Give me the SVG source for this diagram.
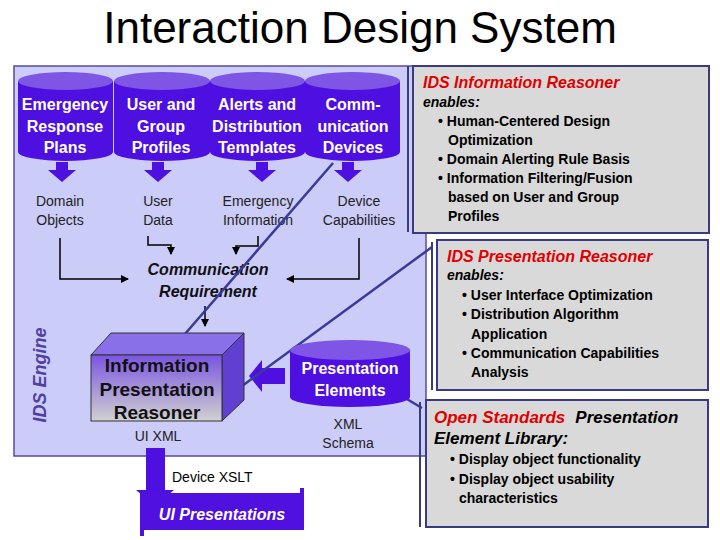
<svg xmlns="http://www.w3.org/2000/svg" width="720" height="540" viewBox="0 0 720 540">
<style>
text{font-family:"Liberation Sans",Arial,sans-serif}
.cw{fill:#fff;font-weight:bold;font-size:16px;text-anchor:middle}
.lb{fill:#222;font-size:14px;text-anchor:middle}
.bx{fill:#d9d9d9;stroke:#3a3a80;stroke-width:2}
.t{fill:#e00000;font-weight:bold;font-style:italic;font-size:16px}
.en{fill:#000;font-weight:bold;font-style:italic;font-size:14px}
.bl{fill:#000;font-weight:bold;font-size:14px}
.cn{fill:none;stroke:#000;stroke-width:1.5}
.cl{stroke:#3a3a9a;stroke-width:2.5}
</style>
<defs>
<marker id="ah" markerWidth="8" markerHeight="8" refX="7" refY="4" orient="auto" markerUnits="userSpaceOnUse"><path d="M0,0L8,4L0,8z" fill="#000"/></marker>
<linearGradient id="bg" x1="0" y1="0" x2="0" y2="1"><stop offset="0" stop-color="#7a55e0"/><stop offset="1" stop-color="#d0d0d0"/></linearGradient>
</defs>
<rect width="720" height="540" fill="#fff"/>
<text x="360" y="43" font-size="44" text-anchor="middle" fill="#000">Interaction Design System</text>
<g id="engine">
<rect x="14" y="66" width="412" height="390" fill="#ccccf8" stroke="#5a4aa0" stroke-width="1.5"/>
<text transform="translate(46,375) rotate(-90)" text-anchor="middle" font-size="18" font-weight="bold" font-style="italic" fill="#5040a0">IDS Engine</text>
</g>
<g id="cylinders">
<g id="c1"><path d="M18,81 V152 A47.5,9 0 0 0 113,152 V81z" fill="#4e10e0"/><ellipse cx="65.5" cy="81" rx="47.5" ry="9" fill="#7f55e6"/>
<text class="cw" x="65" y="110">Emergency</text><text class="cw" x="65" y="132">Response</text><text class="cw" x="65" y="153">Plans</text></g>
<g id="c2"><path d="M114,81 V152 A48,9 0 0 0 210,152 V81z" fill="#4e10e0"/><ellipse cx="162" cy="81" rx="48" ry="9" fill="#7f55e6"/>
<text class="cw" x="161" y="110">User and</text><text class="cw" x="161" y="132">Group</text><text class="cw" x="161" y="153">Profiles</text></g>
<g id="c3"><path d="M210,81 V152 A47.5,9 0 0 0 305,152 V81z" fill="#4e10e0"/><ellipse cx="257.5" cy="81" rx="47.5" ry="9" fill="#7f55e6"/>
<text class="cw" x="257" y="110">Alerts and</text><text class="cw" x="257" y="132">Distribution</text><text class="cw" x="257" y="153">Templates</text></g>
<g id="c4"><path d="M305,81 V152 A47.5,9 0 0 0 400,152 V81z" fill="#4e10e0"/><ellipse cx="352.5" cy="81" rx="47.5" ry="9" fill="#7f55e6"/>
<text class="cw" x="353" y="110">Comm-</text><text class="cw" x="353" y="132">unication</text><text class="cw" x="353" y="153">Devices</text></g>
<g fill="#4e10e0">
<path d="M56,162h12v8h8l-14,12l-14,-12h8z"/>
<path d="M152,162h12v8h8l-14,12l-14,-12h8z"/>
<path d="M256,162h12v8h8l-14,12l-14,-12h8z"/>
<path d="M342,162h12v8h8l-14,12l-14,-12h8z"/>
</g>
</g>
<g id="labels">
<text class="lb" x="60" y="206">Domain</text><text class="lb" x="60" y="225">Objects</text>
<text class="lb" x="158" y="206">User</text><text class="lb" x="158" y="225">Data</text>
<text class="lb" x="258" y="206">Emergency</text><text class="lb" x="258" y="225">Information</text>
<text class="lb" x="359" y="206">Device</text><text class="lb" x="359" y="225">Capabilities</text>
<text x="208" y="275" text-anchor="middle" font-size="16" font-weight="bold" font-style="italic" fill="#111">Communication</text>
<text x="208" y="297" text-anchor="middle" font-size="16" font-weight="bold" font-style="italic" fill="#111">Requirement</text>
</g>
<g id="connectors">
<path class="cn" d="M60,238V279H128" marker-end="url(#ah)"/>
<path class="cn" d="M148,236V245H171V254" marker-end="url(#ah)"/>
<path class="cn" d="M258,236V246H236V254" marker-end="url(#ah)"/>
<path class="cn" d="M359,238V279H287" marker-end="url(#ah)"/>
<path class="cn" d="M205,306V326" marker-end="url(#ah)"/>
<path d="M285,368H262V360L249,376L262,392V384H285z" fill="#4e10e0"/>
<path d="M146,448H165V490H174L155,506L136,490H146z" fill="#4e10e0"/>
<line class="cl" x1="333" y1="163" x2="172" y2="349"/>
<line class="cl" x1="432" y1="247" x2="238" y2="389"/>
<line class="cl" x1="400" y1="395" x2="422" y2="408"/>
</g>
<g id="reasoner">
<path d="M91,355L111,333H244L222,355z" fill="#8a70e8" stroke="#333"/>
<path d="M222,355L244,333V400L222,421z" fill="#6040d0" stroke="#333"/>
<rect x="91" y="355" width="131" height="66" fill="url(#bg)" stroke="#333"/>
<text x="157" y="372" text-anchor="middle" font-size="19" font-weight="bold" fill="#111">Information</text>
<text x="157" y="396" text-anchor="middle" font-size="19" font-weight="bold" fill="#111">Presentation</text>
<text x="157" y="419" text-anchor="middle" font-size="19" font-weight="bold" fill="#111">Reasoner</text>
<text class="lb" x="158" y="441">UI XML</text>
</g>
<g id="presElements">
<path d="M290,350V397A60,10 0 0 0 410,397V350z" fill="#4e10e0"/><ellipse cx="350" cy="350" rx="60" ry="10" fill="#7f55e6"/>
<text class="cw" x="350" y="374">Presentation</text><text class="cw" x="350" y="396">Elements</text>
<text class="lb" x="348" y="429">XML</text><text class="lb" x="348" y="448">Schema</text>
</g>
<g id="uiPres">
<text x="172" y="482" font-size="14" fill="#000">Device XSLT</text>
<path d="M140,493H300V488H304V530H144V536H140z" fill="#5010e0"/>
<text x="222" y="520" text-anchor="middle" font-size="16" font-weight="bold" font-style="italic" fill="#fff">UI Presentations</text>
</g>
<g id="box1">
<line x1="408" y1="66" x2="408" y2="232" stroke="#3a3a80" stroke-width="2"/>
<rect class="bx" x="413" y="66" width="296" height="167"/>
<text class="t" x="423" y="88">IDS Information Reasoner</text>
<text class="en" x="423" y="107">enables:</text>
<text class="bl" x="438" y="126">• Human-Centered Design</text>
<text class="bl" x="448" y="145">Optimization</text>
<text class="bl" x="438" y="164">• Domain Alerting Rule Basis</text>
<text class="bl" x="438" y="183">• Information Filtering/Fusion</text>
<text class="bl" x="448" y="202">based on User and Group</text>
<text class="bl" x="448" y="221">Profiles</text>
</g>
<g id="box2">
<line x1="432" y1="242" x2="432" y2="390" stroke="#3a3a80" stroke-width="2"/>
<rect class="bx" x="437" y="240" width="271" height="150"/>
<text class="t" x="447" y="262">IDS Presentation Reasoner</text>
<text class="en" x="447" y="280">enables:</text>
<text class="bl" x="462" y="300">• User Interface Optimization</text>
<text class="bl" x="462" y="319">• Distribution Algorithm</text>
<text class="bl" x="471" y="339">Application</text>
<text class="bl" x="462" y="358">• Communication Capabilities</text>
<text class="bl" x="471" y="377">Analysis</text>
</g>
<g id="box3">
<line x1="420" y1="402" x2="420" y2="527" stroke="#3a3a80" stroke-width="2"/>
<rect class="bx" x="426" y="400" width="282" height="127"/>
<text x="434" y="423" font-size="17" font-weight="bold" font-style="italic"><tspan fill="#e00000">Open Standards</tspan><tspan fill="#000" dx="10">Presentation</tspan></text>
<text x="434" y="444" font-size="17" font-weight="bold" font-style="italic" fill="#000">Element Library:</text>
<text class="bl" x="450" y="464">• Display object functionality</text>
<text class="bl" x="450" y="484">• Display object usability</text>
<text class="bl" x="459" y="503">characteristics</text>
</g>
</svg>
